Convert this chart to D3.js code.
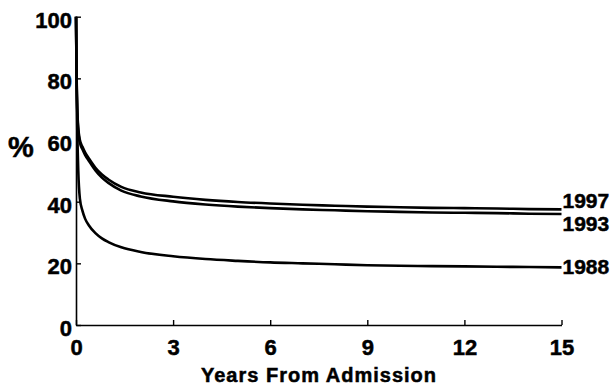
<!DOCTYPE html>
<html>
<head>
<meta charset="utf-8">
<script src="https://cdn.jsdelivr.net/npm/d3@7"></script>
<style>
  html, body { margin: 0; padding: 0; background: #fff; }
  svg { display: block; }
  text { font-family: "Liberation Sans", Arial, Helvetica, sans-serif; font-weight: bold; fill: #000; stroke: #000; stroke-width: 0.5px; }
</style>
</head>
<body>
<svg id="chart" width="613" height="385"></svg>
<script>
// Data
const years = [0, 0.02, 0.04, 0.07, 0.12, 0.2, 0.28, 0.4, 0.6, 0.8, 1, 1.4, 2, 3, 4, 5, 6, 7, 8, 9, 10, 11, 12, 13, 14, 15];
const s1997 = [100, 80, 70, 64, 60, 57.8, 56, 54, 51, 48.8, 47.2, 44.8, 43.0, 41.6, 40.6, 39.9, 39.4, 39.0, 38.7, 38.4, 38.2, 38.0, 37.9, 37.8, 37.6, 37.5];
const s1993 = [100, 79, 69, 63, 59.2, 57, 55.2, 53.2, 50.1, 47.8, 46.1, 43.6, 41.7, 40.1, 39.1, 38.4, 37.9, 37.5, 37.2, 36.9, 36.7, 36.5, 36.4, 36.3, 36.1, 36.0];
const s1988 = [100, 78, 63, 50, 41, 37, 34.5, 32.3, 29.8, 28.1, 26.9, 25.2, 23.7, 22.3, 21.4, 20.8, 20.3, 20.0, 19.7, 19.4, 19.2, 19.1, 19.0, 18.9, 18.8, 18.7];
const seriesNames = ["1997", "1993", "1988"];
const xTicks = [0, 3, 6, 9, 12, 15];
const yTicks = [0, 20, 40, 60, 80, 100];
const xTitle = "Years From Admission";
const yTitle = "%";

const svg = d3.select("#chart");
const x = d3.scaleLinear().domain([0, 15]).range([76, 561.5]);
const y = d3.scaleLinear().domain([0, 100]).range([325, 16.7]);

// Axes
const yAxis = d3.axisLeft(y).tickValues(yTicks).tickSizeInner(-5).tickSizeOuter(0).tickPadding(4);
const gy = svg.append("g").attr("transform", `translate(${x(0)},0)`).call(yAxis);
gy.select(".domain").attr("stroke", "#000").attr("stroke-width", 1.6);
gy.selectAll(".tick line").attr("stroke", "#000").attr("stroke-width", 1.4);
gy.selectAll(".tick text").attr("font-size", 22).attr("dy", "0.47em")
  .attr("font-family", '"Liberation Sans", Arial, sans-serif').attr("font-weight", "bold");

const xAxis = d3.axisBottom(x).tickValues(xTicks).tickSizeInner(-5).tickSizeOuter(0).tickPadding(14);
const gx = svg.append("g").attr("transform", `translate(0,${y(0)})`).call(xAxis);
gx.select(".domain").attr("stroke", "#000").attr("stroke-width", 1.6);
gx.selectAll(".tick line").attr("stroke", "#000").attr("stroke-width", 1.4);
gx.selectAll(".tick text").attr("font-size", 22)
  .attr("font-family", '"Liberation Sans", Arial, sans-serif').attr("font-weight", "bold");

// Titles
svg.append("text").attr("x", 319).attr("y", 381.5).attr("text-anchor", "middle")
  .attr("font-size", 20).attr("letter-spacing", "1px").text(xTitle);
svg.append("text").attr("x", 21).attr("y", 157).attr("text-anchor", "middle")
  .attr("font-size", 29).text(yTitle);

// Lines
const all = [s1997, s1993, s1988];
const line = d3.line().x((d, i) => x(years[i])).y(d => y(d)).curve(d3.curveMonotoneX);
all.forEach((s, k) => {
  svg.append("path").datum(s).attr("d", line)
    .attr("fill", "none").attr("stroke", "#000").attr("stroke-width", 2.6);
});

// End labels
const labelY = [208, 230.5, 273.5];
seriesNames.forEach((n, k) => {
  svg.append("text").attr("x", 562.5).attr("y", labelY[k]).attr("font-size", 21).text(n);
});
</script>
</body>
</html>
